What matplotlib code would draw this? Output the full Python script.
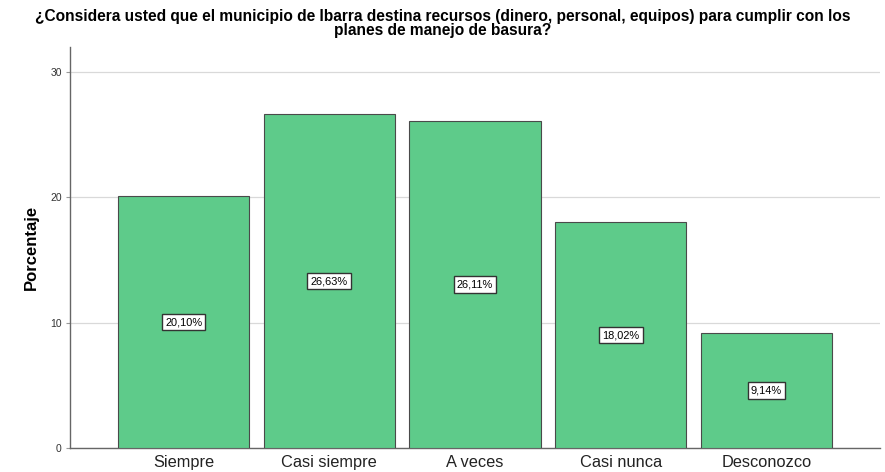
import numpy as np
import matplotlib
matplotlib.use("Agg")
import matplotlib.pyplot as plt

plt.rcParams['font.family'] = ['Liberation Sans', 'DejaVu Sans']

categories = ["Siempre", "Casi siempre", "A veces", "Casi nunca", "Desconozco"]
percentages = [20.10, 26.63, 26.11, 18.02, 9.14]
yticks = [0, 10, 20, 30]
title_lines = ["¿Considera usted que el municipio de Ibarra destina recursos (dinero, personal, equipos) para cumplir con los",
               "planes de manejo de basura?"]

W, H = 885, 472
fig = plt.figure(figsize=(W/100, H/100), dpi=100)
ax = fig.add_axes([70/W, 24/H, 810/W, 401/H])

x = np.arange(len(categories))
ax.bar(x, percentages, width=0.9, color="#5ECB8A", edgecolor="#4a4a4a", linewidth=0.8, zorder=3)

for xi, v in zip(x, percentages):
    ax.text(xi, v/2, ("%.2f" % v).replace(".", ",") + "%", ha="center", va="center",
            fontsize=7.9, zorder=4,
            bbox=dict(boxstyle="square,pad=0.3", facecolor="white", edgecolor="#333333", linewidth=1.0))

ax.set_xlim(-0.78, 4.78)
ax.set_ylim(0, 32)
ax.set_yticks(yticks)
ax.set_xticks(x)
ax.set_xticklabels(categories, fontsize=11.8, color="#222222")
ax.tick_params(axis="x", length=0, pad=5)
ax.tick_params(axis="y", length=3, color="#999999", labelsize=7.5, labelcolor="#333333", pad=3)
ax.grid(axis="y", color="#d9d9d9", linewidth=0.9, zorder=0)
for s in ["top", "right"]:
    ax.spines[s].set_visible(False)
for s in ["left", "bottom"]:
    ax.spines[s].set_color("#666666")
    ax.spines[s].set_linewidth(1.0)

ax.set_ylabel("Porcentaje", fontsize=12, fontweight="bold", labelpad=8)

# title: two lines placed by baseline
fig.text(0.5, 1 - 21/H, title_lines[0], ha="center", va="baseline", fontsize=11.2, fontweight="bold")
fig.text(0.5, 1 - 35/H, title_lines[1], ha="center", va="baseline", fontsize=11.2, fontweight="bold")

fig.savefig("out.png", dpi=100)
